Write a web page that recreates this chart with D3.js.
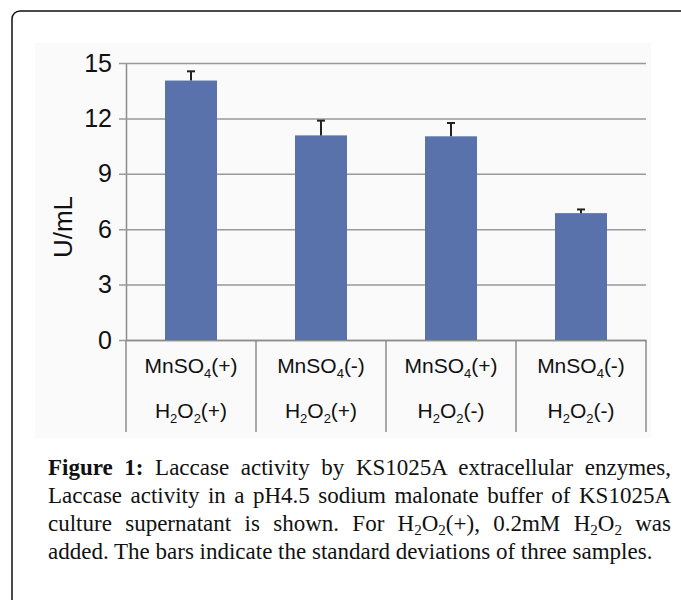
<!DOCTYPE html>
<html>
<head>
<meta charset="utf-8">
<script src="https://cdn.jsdelivr.net/npm/d3@7"></script>
<style>
  body { margin: 0; background: #fff; }
  #wrap { position: relative; width: 681px; height: 600px; overflow: hidden; }
  svg { position: absolute; left: 0; top: 0; }
  #caption {
    position: absolute; left: 48px; top: 454px; width: 623px;
    font-family: "Liberation Serif", serif; font-size: 23px; line-height: 28px; color: #111;
  }
  #caption div { text-align: justify; text-align-last: justify; white-space: nowrap; }
  #caption div.last { text-align-last: left; }
  #caption sub { font-size: 15px; line-height: 0; vertical-align: -4px; }
</style>
</head>
<body>
<div id="wrap">
<svg id="chart" width="681" height="600"></svg>
<div id="caption"></div>
</div>
<script>
// chart values
const mnso4 = ["(+)", "(-)", "(+)", "(-)"];
const h2o2 = ["(+)", "(+)", "(-)", "(-)"];
const activity = [14.05, 11.08, 11.03, 6.87];
const stdev = [0.5, 0.8, 0.72, 0.2];
const yTicks = [0, 3, 6, 9, 12, 15];

const svg = d3.select("#chart");
const plotL = 126, plotR = 646, plotT = 63, plotB = 340;

// outer frame
svg.append("rect")
  .attr("x", 12).attr("y", 11).attr("width", 720).attr("height", 640)
  .attr("rx", 8).attr("fill", "none").attr("stroke", "#111").attr("stroke-width", 1.5);

// light chart background
svg.append("rect")
  .attr("x", 35).attr("y", 43).attr("width", 616).attr("height", 395)
  .attr("fill", "#fafafa");

const idx = d3.range(activity.length);
const cells = d3.scaleBand().domain(idx).range([plotL, plotR]).padding(0);
const x = d3.scaleBand().domain(idx).range([plotL, plotR]).paddingInner(0.6).paddingOuter(0.3);
const y = d3.scaleLinear().domain([0, 15]).range([plotB, plotT]);

// y axis with gridlines
const yAxis = svg.append("g")
  .attr("transform", `translate(${plotL},0)`)
  .call(d3.axisLeft(y).tickValues(yTicks).tickSizeInner(-(plotR - plotL)).tickSizeOuter(0).tickPadding(14));
yAxis.select(".domain").attr("stroke", "#8c8c8c").attr("stroke-width", 1.5);
yAxis.selectAll(".tick line").attr("x1", -7).attr("stroke", "#999").attr("stroke-width", 1.5);
yAxis.selectAll(".tick text")
  .attr("font-family", "Liberation Sans, Arial, sans-serif").attr("font-size", 25).attr("fill", "#111");

// x axis line
const xAxis = svg.append("g")
  .attr("transform", `translate(0,${plotB})`)
  .call(d3.axisBottom(cells).tickSize(0).tickFormat(""));
xAxis.select(".domain").attr("stroke", "#8c8c8c").attr("stroke-width", 1.5);

// table separators under the axis
const edges = idx.map(i => cells(i)).concat([plotR]);
svg.selectAll(".sep").data(edges).enter().append("line")
  .attr("class", "sep")
  .attr("x1", d => d).attr("x2", d => d)
  .attr("y1", plotB).attr("y2", 432)
  .attr("stroke", "#8c8c8c").attr("stroke-width", 1.5);

// bars
svg.selectAll(".bar").data(activity).enter().append("rect")
  .attr("class", "bar")
  .attr("x", (d, i) => x(i))
  .attr("y", d => y(d))
  .attr("width", x.bandwidth())
  .attr("height", d => y(0) - y(d))
  .attr("fill", "#5a72ab");

// error bars (upper only)
const err = svg.selectAll(".err").data(activity).enter().append("g").attr("class", "err");
err.append("line")
  .attr("x1", (d, i) => x(i) + x.bandwidth() / 2).attr("x2", (d, i) => x(i) + x.bandwidth() / 2)
  .attr("y1", d => y(d)).attr("y2", (d, i) => y(d + stdev[i]))
  .attr("stroke", "#222").attr("stroke-width", 2);
err.append("line")
  .attr("x1", (d, i) => x(i) + x.bandwidth() / 2 - 4).attr("x2", (d, i) => x(i) + x.bandwidth() / 2 + 4)
  .attr("y1", (d, i) => y(d + stdev[i])).attr("y2", (d, i) => y(d + stdev[i]))
  .attr("stroke", "#222").attr("stroke-width", 2);

// category labels, two rows
function chemLabel(row, base, parts, state) {
  const t = svg.selectAll(".lab" + row).data(state).enter().append("text")
    .attr("x", (d, i) => cells(i) + cells.bandwidth() / 2)
    .attr("y", base)
    .attr("text-anchor", "middle")
    .attr("font-family", "Liberation Sans, Arial, sans-serif")
    .attr("font-size", 21).attr("fill", "#111");
  t.each(function (d) {
    const el = d3.select(this);
    parts.forEach(p => {
      if (p.sub) el.append("tspan").attr("font-size", 13).attr("dy", 5).text(p.t);
      else el.append("tspan").attr("dy", p.back ? -5 : 0).text(p.t);
    });
    el.append("tspan").attr("dy", parts[parts.length - 1].sub ? -5 : 0).text(d);
  });
}
chemLabel(1, 373, [{t: "MnSO"}, {t: "4", sub: true}], mnso4);
chemLabel(2, 418, [{t: "H"}, {t: "2", sub: true}, {t: "O", back: true}, {t: "2", sub: true}], h2o2);

// y axis title
svg.append("text")
  .attr("transform", "translate(72,227) rotate(-90)")
  .attr("text-anchor", "middle")
  .attr("font-family", "Liberation Sans, Arial, sans-serif")
  .attr("font-size", 26).attr("fill", "#111")
  .text("U/mL");

// caption
const captionLines = [
  "<b>Figure 1:</b> Laccase activity by KS1025A extracellular enzymes,",
  "Laccase activity in a pH4.5 sodium malonate buffer of KS1025A",
  "culture supernatant is shown. For H<sub>2</sub>O<sub>2</sub>(+), 0.2mM H<sub>2</sub>O<sub>2</sub> was",
  "added. The bars indicate the standard deviations of three samples."
];
d3.select("#caption").selectAll("div").data(captionLines).enter().append("div")
  .attr("class", (d, i) => i === captionLines.length - 1 ? "last" : null)
  .html(d => d);
</script>
</body>
</html>
